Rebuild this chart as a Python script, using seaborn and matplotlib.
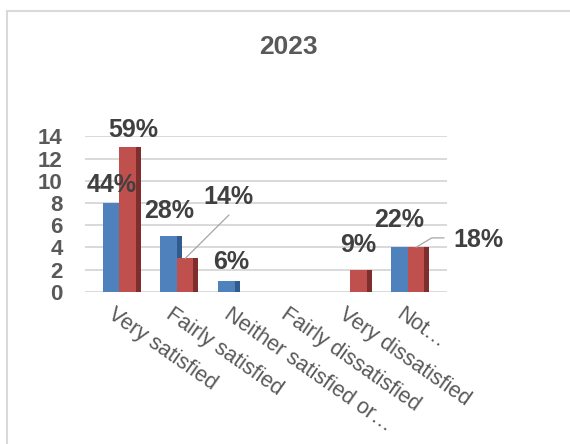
import numpy as np
import pandas as pd
import matplotlib
matplotlib.use("Agg")
import matplotlib.pyplot as plt
import seaborn as sns
from matplotlib.patches import Rectangle
from matplotlib.lines import Line2D
from matplotlib.transforms import ScaledTranslation, IdentityTransform

# ---- data -------------------------------------------------------------
categories = ["Very satisfied", "Fairly satisfied", "Neither satisfied or\u2026",
              "Fairly dissatisfied", "Very dissatisfied", "Not\u2026"]
series_names = ["Survey 1", "Survey 2"]
counts_1 = [8, 5, 1, 0, 0, 4]
counts_2 = [13, 3, 0, 0, 2, 4]
y_ticks = [0, 2, 4, 6, 8, 10, 12, 14]
title = "2023"

# ---- style ------------------------------------------------------------
sns.set_theme(style="white")
plt.rcParams["font.family"] = ["Liberation Sans", "DejaVu Sans"]

W, H, DPI = 570, 444, 100
fig = plt.figure(figsize=(W / DPI, H / DPI), dpi=DPI)
fig.patch.set_facecolor("white")


def box(x0, y0, x1, y1):
    """Figure-fraction rectangle from pixel edges measured from the top-left."""
    return [x0 / W, 1 - y1 / H, (x1 - x0) / W, (y1 - y0) / H]


ax = fig.add_axes(box(85, 136.3, 447, 291.7))

df = pd.DataFrame({
    "category": categories * 2,
    "series": [series_names[0]] * len(categories) + [series_names[1]] * len(categories),
    "count": counts_1 + counts_2,
})

face = ["#4F81BD", "#C0504D"]
shade = ["#2F5B8F", "#7E2E2C"]

sns.barplot(data=df, x="category", y="count", hue="series",
            order=categories, hue_order=series_names, palette=face,
            width=0.572, saturation=1, errorbar=None, legend=False,
            linewidth=0, edgecolor="none", zorder=3, ax=ax)

ax.set_xlim(-0.594, 5.679)
ax.set_ylim(0, 14)
ax.set_yticks(y_ticks)
ax.set_axisbelow(True)
ax.yaxis.grid(True, color="#D9D9D9", linewidth=1.4)
ax.xaxis.grid(False)
for s in ax.spines.values():
    s.set_visible(False)
ax.set_xlabel("")
ax.set_ylabel("")

# y tick labels
ax.tick_params(axis="y", length=0, pad=16, labelsize=16, labelcolor="#595959")
for lbl in ax.get_yticklabels():
    lbl.set_fontweight("bold")

# x tick labels, slanted
ax.set_xticks(range(len(categories)))
ax.set_xticklabels(categories, rotation=-35, ha="left", va="top",
                   rotation_mode="anchor", fontsize=15.5, color="#595959")
ax.tick_params(axis="x", length=0, pad=9)
shift = ScaledTranslation(-3 / DPI, 0, fig.dpi_scale_trans)
for lbl in ax.get_xticklabels():
    lbl.set_transform(lbl.get_transform() + shift)

# darker side face on each bar for a shallow 3-D look
side_w = 5 / 57.7
for i, cont in enumerate(ax.containers):
    for p in cont.patches:
        h = p.get_height()
        if h <= 0:
            continue
        ax.add_patch(Rectangle((p.get_x() + p.get_width(), 0), side_w, h,
                               facecolor=shade[i], edgecolor="none",
                               zorder=2.5 if i == 0 else 3.5))

# percentage labels (share of each series total)
series_counts = [counts_1, counts_2]
label_offsets = {
    (0, 0): (0.7, 17.9), (0, 1): (0.3, 24.9), (0, 2): (4.6, 18.6), (0, 5): (0, 27),
    (1, 0): (5.5, 17.3), (1, 1): (43, 61.7), (1, 4): (0, 25), (1, 5): (62.3, 7.6),
}
leader = {
    (1, 1): [(0, 0), (43.7, 43.4)],
    (1, 5): [(0, 0), (15.7, 9.4), (28, 9.4)],
}
for i, cont in enumerate(ax.containers):
    vals = series_counts[i]
    total = sum(vals)
    for j, p in enumerate(cont.patches):
        v = vals[j]
        if v <= 0:
            continue
        cx = p.get_x() + p.get_width() / 2
        dx, dy = label_offsets[(i, j)]
        ax.annotate(f"{round(v / total * 100)}%", xy=(cx, v), xytext=(dx, dy),
                    textcoords="offset pixels", ha="center", va="center",
                    fontsize=18, fontweight="bold", color="#404040",
                    annotation_clip=False, zorder=5)
        if (i, j) in leader:
            bx, by = ax.transData.transform((cx, v))
            pts = leader[(i, j)]
            fig.add_artist(Line2D([bx + a for a, _ in pts], [by + b for _, b in pts],
                                  transform=IdentityTransform(), color="#A6A6A6",
                                  linewidth=0.9, zorder=6))

# title
fig.text(288 / W, 1 - 47 / H, title, ha="center", va="center",
         fontsize=19, fontweight="bold", color="#595959")

# chart-area frame
fig.add_artist(Rectangle((6.5 / W, -0.05), 1.2, 1 - 11.5 / H + 0.05,
                         transform=fig.transFigure, fill=False,
                         edgecolor="#D9D9D9", linewidth=1.5, clip_on=False))

fig.savefig("out.png", dpi=DPI, facecolor="white")
